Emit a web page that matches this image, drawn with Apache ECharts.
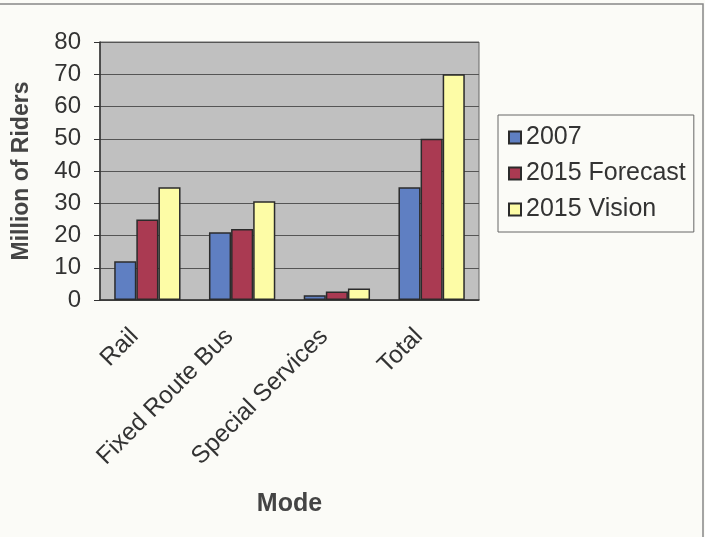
<!DOCTYPE html>
<html>
<head>
<meta charset="utf-8">
<script src="https://cdn.jsdelivr.net/npm/echarts@6/dist/echarts.min.js"></script>
<style>
  html, body { margin: 0; padding: 0; background: #fbfbf7; }
  #chart { width: 705px; height: 537px; }
</style>
</head>
<body>
<div id="chart"></div>
<script>
const modes = ['Rail', 'Fixed Route Bus', 'Special Services', 'Total'];
const seriesNames = ['2007', '2015 Forecast', '2015 Vision'];
const riders2007 = [12, 21, 1.5, 35];
const ridersForecast = [25, 22, 2.6, 50];
const ridersVision = [35, 30.6, 3.6, 70];
const colors = ['#5f7fc2', '#aa3a52', '#fdfca6'];

(function () {
  const font = '"Liberation Sans", Arial, sans-serif';
  const values = [riders2007, ridersForecast, ridersVision];

  const series = seriesNames.map((name, i) => ({
    name: name,
    type: 'bar',
    data: values[i],
    barGap: 0,
    barCategoryGap: '30%',
    itemStyle: { color: colors[i], borderColor: '#2b2b2b', borderWidth: 1.5 }
  }));

  const option = {
    backgroundColor: '#fbfbf7',
    animation: false,
    textStyle: { fontFamily: font },
    graphic: [{
      type: 'rect',
      shape: { x: -2, y: 4, width: 705, height: 540 },
      style: { fill: 'none', stroke: '#888', lineWidth: 1.5 },
      silent: true
    }],
    grid: {
      left: 100, right: 226, top: 42, bottom: 237,
      show: true, backgroundColor: '#c0c0c0', borderColor: '#666', borderWidth: 1
    },
    legend: {
      data: seriesNames,
      orient: 'vertical',
      left: 498, top: 115,
      padding: [10, 8, 10, 10],
      itemGap: 11,
      itemWidth: 12, itemHeight: 12,
      icon: 'rect',
      borderColor: '#666', borderWidth: 1,
      backgroundColor: '#fbfbf7',
      textStyle: { fontSize: 25, color: '#333', fontFamily: font }
    },
    xAxis: {
      type: 'category',
      data: modes,
      name: 'Mode',
      nameLocation: 'middle',
      nameGap: 192,
      nameTextStyle: { fontSize: 25, fontWeight: 'bold', color: '#444' },
      axisLine: { lineStyle: { color: '#333', width: 1.5 } },
      axisTick: { length: 7, lineStyle: { color: '#333' } },
      axisLabel: {
        rotate: 45, fontSize: 24.5, color: '#333', margin: 20,
        padding: [0, 18, 0, 0], interval: 0
      }
    },
    yAxis: {
      type: 'value',
      min: 0, max: 80, interval: 10,
      name: 'Million of Riders',
      nameLocation: 'middle',
      nameGap: 67,
      nameTextStyle: { fontSize: 23, fontWeight: 'bold', color: '#444' },
      axisLine: { show: true, lineStyle: { color: '#333', width: 1.5 } },
      axisTick: { show: true, length: 6, lineStyle: { color: '#333' } },
      axisLabel: { fontSize: 24, color: '#333', margin: 19 },
      splitLine: { lineStyle: { color: '#555', width: 1 } }
    },
    series: series
  };

  const chart = echarts.init(document.getElementById('chart'));
  chart.setOption(option);
})();
</script>
</body>
</html>
